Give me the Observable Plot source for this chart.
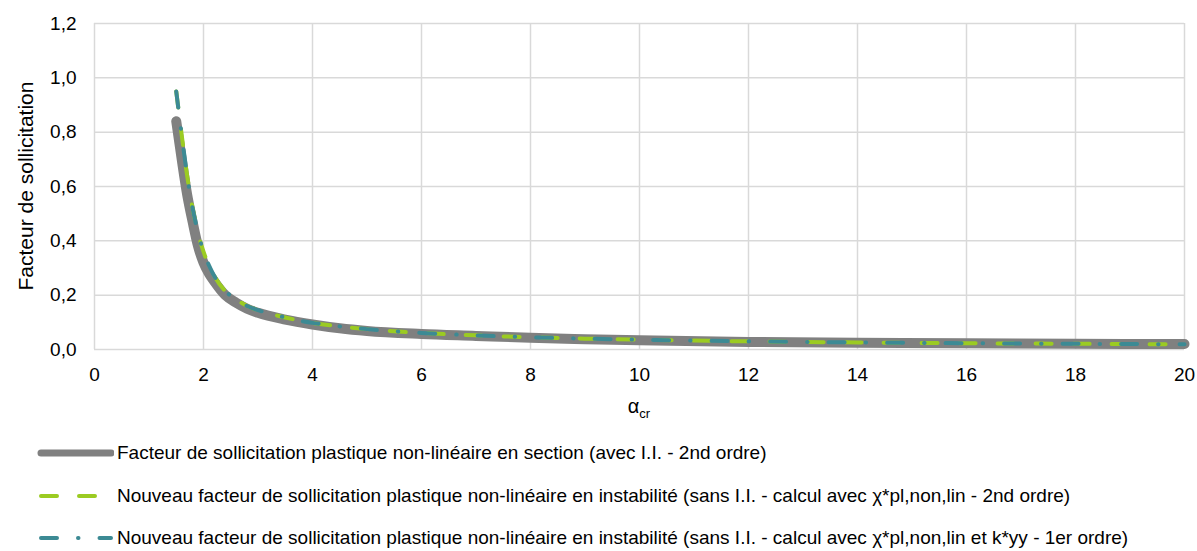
<!DOCTYPE html>
<html><head><meta charset="utf-8">
<script src="https://cdn.jsdelivr.net/npm/d3@7"></script>
<script src="https://cdn.jsdelivr.net/npm/@observablehq/plot@0.6"></script>
<style>
body{margin:0;background:#fff;font-family:"Liberation Sans",Arial,sans-serif;}
#chart svg{display:block;}
#legend{margin-top:2px;}
.row{display:flex;align-items:center;height:42.5px;font-size:19px;color:#000;white-space:nowrap;}
.row svg{margin-left:36px;margin-right:3px;flex:none;}
</style>
</head><body>
<div id="chart"></div>
<div id="legend"></div>
<script>
const xs = [1.5,1.6,1.7,1.8,1.9,2.0,2.1,2.2,2.4,2.6,2.8,3.0,3.5,4,4.5,5,6,7,8,9,10,12,14,16,18,20];
const grayVals  = [0.84,0.70,0.57,0.47,0.38,0.32,0.28,0.25,0.20,0.172,0.15,0.135,0.11,0.092,0.078,0.068,0.057,0.050,0.043,0.038,0.034,0.028,0.025,0.023,0.021,0.020];
const greenVals = [0.95,0.79,0.64,0.52,0.43,0.36,0.31,0.27,0.215,0.185,0.16,0.145,0.118,0.098,0.085,0.075,0.061,0.052,0.045,0.040,0.036,0.030,0.026,0.023,0.021,0.019];
const tealVals  = [0.95,0.79,0.64,0.52,0.43,0.36,0.31,0.27,0.215,0.185,0.16,0.145,0.118,0.098,0.085,0.075,0.061,0.052,0.045,0.040,0.036,0.030,0.026,0.023,0.021,0.019];
const seriesNames = [
  "Facteur de sollicitation plastique non-linéaire en section (avec I.I. - 2nd ordre)",
  "Nouveau facteur de sollicitation plastique non-linéaire en instabilité (sans I.I. - calcul avec χ*pl,non,lin - 2nd ordre)",
  "Nouveau facteur de sollicitation plastique non-linéaire en instabilité (sans I.I. - calcul avec χ*pl,non,lin et k*yy - 1er ordre)"
];
const yLabel = "Facteur de sollicitation";
const xTicks = [0,2,4,6,8,10,12,14,16,18,20];
const yTicks = [0,0.2,0.4,0.6,0.8,1.0,1.2];

const gray = xs.map((x,i)=>({x, y: grayVals[i]}));
const green = xs.map((x,i)=>({x, y: greenVals[i]}));
const teal = xs.map((x,i)=>({x, y: tealVals[i]}));
const fmt = d => d.toFixed(1).replace(".", ",");

const chart = Plot.plot({
  width: 1197, height: 430,
  marginLeft: 94, marginRight: 13, marginTop: 23, marginBottom: 81,
  style: {fontFamily: '"Liberation Sans", Arial, sans-serif', fontSize: "19px", color: "#000", background: "#fff"},
  x: {domain: [0,20]},
  y: {domain: [0,1.2]},
  marks: [
    Plot.gridX(xTicks.filter(d=>d>0), {stroke: "#d9d9d9", strokeOpacity: 1, strokeWidth: 1.5}),
    Plot.gridY(yTicks.filter(d=>d>0), {stroke: "#d9d9d9", strokeOpacity: 1, strokeWidth: 1.5}),
    Plot.ruleX([0], {stroke: "#d9d9d9", strokeWidth: 1.5}),
    Plot.ruleY([0], {stroke: "#d9d9d9", strokeWidth: 1.5}),
    Plot.axisX(xTicks, {tickSize: 0, tickPadding: 18, label: null, fontSize: 19}),
    Plot.axisY(yTicks, {tickSize: 0, tickPadding: 18, tickFormat: fmt, label: null, fontSize: 19}),
    Plot.line(gray, {x: "x", y: "y", stroke: "#808080", strokeWidth: 10, strokeLinecap: "round", strokeLinejoin: "round", curve: "monotone-x"}),
    Plot.line(green, {x: "x", y: "y", stroke: "#9BCB22", strokeWidth: 4, strokeLinecap: "round", strokeDasharray: "16,22", curve: "monotone-x"}),
    Plot.line(teal, {x: "x", y: "y", stroke: "#3C8A94", strokeWidth: 4, strokeLinecap: "round", strokeDasharray: "16,21,0.5,21", curve: "monotone-x"})
  ]
});
document.getElementById("chart").appendChild(chart);

const svg = d3.select(chart);
// y axis label
svg.append("text").attr("transform", "translate(33,186) rotate(-90)").attr("text-anchor", "middle")
  .attr("font-size", 21).attr("fill", "#000").text(yLabel);
// x axis label with subscript
const xl = svg.append("text").attr("x", 639).attr("y", 413).attr("text-anchor", "middle")
  .attr("font-size", 20).attr("fill", "#000");
xl.append("tspan").text("α");
xl.append("tspan").attr("font-size", 13).attr("dy", 5).text("cr");

// legend
const legendStyles = [
  {stroke: "#808080", width: 7, dash: null},
  {stroke: "#9BCB22", width: 4, dash: "16,22"},
  {stroke: "#3C8A94", width: 4, dash: "16,21,0.5,21"}
];
const leg = d3.select("#legend");
seriesNames.forEach((name, i) => {
  const row = leg.append("div").attr("class", "row");
  const s = row.append("svg").attr("width", 78).attr("height", 12);
  const st = legendStyles[i];
  const l = s.append("line").attr("x1", 5).attr("x2", 75).attr("y1", 6).attr("y2", 6)
    .attr("stroke", st.stroke).attr("stroke-width", st.width).attr("stroke-linecap", "round");
  if (st.dash) l.attr("stroke-dasharray", st.dash);
  row.append("span").text(name);
});
</script>
</body></html>
